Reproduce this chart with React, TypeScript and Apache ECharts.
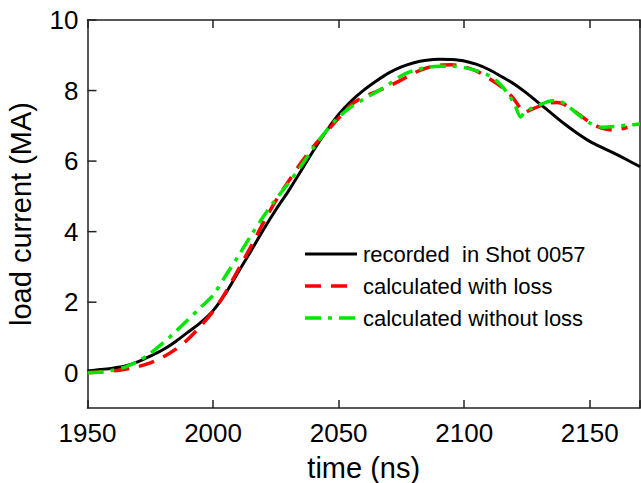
import React, { useEffect, useRef } from "react";
import * as echarts from "echarts";

const timeRecorded = [1950, 1955, 1960, 1965, 1970, 1975, 1980, 1985, 1990, 1995, 2000, 2005, 2010, 2015, 2020, 2025, 2030, 2035, 2040, 2045, 2050, 2055, 2060, 2065, 2070, 2075, 2080, 2085, 2090, 2095, 2100, 2105, 2110, 2115, 2120, 2125, 2130, 2135, 2140, 2145, 2150, 2155, 2160, 2165, 2170];
const currentRecorded = [0.05, 0.09, 0.13, 0.19, 0.31, 0.47, 0.65, 0.88, 1.15, 1.42, 1.76, 2.25, 2.85, 3.44, 4.05, 4.62, 5.15, 5.72, 6.3, 6.84, 7.32, 7.7, 8.01, 8.27, 8.5, 8.67, 8.79, 8.86, 8.89, 8.88, 8.84, 8.74, 8.59, 8.39, 8.18, 7.92, 7.63, 7.34, 7.05, 6.79, 6.56, 6.38, 6.21, 6.03, 5.84];

const timeWithLoss = [1950, 1955, 1960, 1965, 1970, 1975, 1980, 1985, 1990, 1995, 2000, 2005, 2010, 2015, 2020, 2025, 2030, 2035, 2040, 2045, 2050, 2055, 2060, 2065, 2070, 2075, 2080, 2085, 2090, 2095, 2100, 2105, 2110, 2115, 2118, 2120, 2122, 2124, 2126, 2130, 2134, 2137, 2140, 2145, 2150, 2155, 2160, 2165];
const currentWithLoss = [0.0, 0.02, 0.05, 0.1, 0.17, 0.28, 0.44, 0.66, 0.95, 1.32, 1.74, 2.28, 2.92, 3.57, 4.25, 4.88, 5.42, 5.95, 6.42, 6.82, 7.22, 7.6, 7.82, 7.97, 8.13, 8.3, 8.5, 8.64, 8.72, 8.73, 8.67, 8.55, 8.34, 8.1, 7.9, 7.74, 7.53, 7.37, 7.44, 7.56, 7.65, 7.66, 7.6, 7.36, 7.1, 6.93, 6.88, 6.96];

const timeWithoutLoss = [1950, 1955, 1960, 1965, 1970, 1975, 1980, 1985, 1990, 1995, 2000, 2005, 2010, 2015, 2020, 2025, 2030, 2035, 2040, 2045, 2050, 2055, 2060, 2065, 2070, 2075, 2080, 2085, 2090, 2095, 2100, 2105, 2110, 2114, 2117, 2120, 2122.5, 2124, 2127, 2131, 2135, 2138, 2141, 2145, 2150, 2155, 2160, 2165, 2170];
const currentWithoutLoss = [0.0, 0.02, 0.07, 0.16, 0.32, 0.55, 0.84, 1.16, 1.5, 1.85, 2.2, 2.75, 3.3, 3.88, 4.42, 4.92, 5.37, 5.86, 6.38, 6.85, 7.25, 7.54, 7.76, 7.96, 8.18, 8.42, 8.57, 8.65, 8.69, 8.69, 8.65, 8.56, 8.42, 8.2, 7.95, 7.62, 7.25, 7.38, 7.5, 7.62, 7.71, 7.69, 7.58, 7.34, 7.08, 6.96, 6.98, 7.02, 7.05];

const xTicks = [1950, 2000, 2050, 2100, 2150];
const yTicks = [0, 2, 4, 6, 8, 10];
const seriesNames = ["recorded  in Shot 0057", "calculated with loss", "calculated without loss"];
const seriesColors = ["#000000", "#ff0000", "#00e600"];
const seriesDash: (number[] | null)[] = [null, [16, 10], [16, 7, 4, 7]];

const pairs = (xs: number[], ys: number[]) => xs.map((x, i) => [x, ys[i]]);

export default function App() {
  const ref = useRef<HTMLDivElement>(null);
  useEffect(() => {
    const chart = echarts.init(ref.current!, null, { renderer: "svg" });
    const font = "'Liberation Sans', Arial, sans-serif";
    const axisColor = "#222";
    const lineStyle = { color: axisColor, width: 1.5 };
    const widths = [3, 3.5, 3.5];

    const legendX = 305;
    const legendY = 254;
    const legendRow = 32;
    const legendGraphics: any[] = [];
    seriesNames.forEach((name, i) => {
      const y = legendY + i * legendRow;
      legendGraphics.push({
        type: "line",
        shape: { x1: legendX, y1: y, x2: legendX + 52, y2: y },
        style: {
          stroke: seriesColors[i],
          lineWidth: widths[i],
          lineDash: seriesDash[i] || undefined,
        },
        z: 10,
      });
      legendGraphics.push({
        type: "text",
        x: legendX + 58,
        y,
        style: {
          text: name,
          fill: "#000",
          font: `22px ${font}`,
          verticalAlign: "middle",
        },
        z: 10,
      });
    });

    const fmt = (v: number) => String(v);

    // inward y ticks at the even values, placed through the axis scales
    const tickSeries = {
      type: "custom",
      xAxisIndex: 0,
      yAxisIndex: 0,
      silent: true,
      z: 1,
      data: yTicks.map((v) => [xTicks[0], v]),
      renderItem: (params: any, api: any) => {
        const p = api.coord([api.value(0), api.value(1)]);
        return {
          type: "line",
          shape: { x1: p[0], y1: p[1], x2: p[0] + 9, y2: p[1] },
          style: { stroke: axisColor, lineWidth: 1.5 },
        };
      },
    };

    chart.setOption({
      animation: false,
      backgroundColor: "#fff",
      grid: { left: 87.5, right: 1, top: 20, bottom: 75, containLabel: false, outerBoundsMode: "none" },
      graphic: legendGraphics,
      xAxis: [
        {
          type: "value",
          min: 1950,
          max: 2170,
          interval: 50,
          position: "bottom",
          name: "time (ns)",
          nameLocation: "middle",
          nameGap: 45,
          nameTextStyle: { fontSize: 29, color: "#000", fontFamily: font },
          axisLine: { show: true, onZero: false, lineStyle },
          axisTick: { show: true, inside: true, length: 8, lineStyle },
          axisLabel: { customValues: xTicks, formatter: fmt, fontSize: 26, color: "#000", margin: 12, fontFamily: font },
          splitLine: { show: false },
        },
        {
          type: "value",
          min: 1950,
          max: 2170,
          interval: 50,
          position: "top",
          axisLine: { show: true, onZero: false, lineStyle },
          axisTick: { show: true, inside: true, length: 8, lineStyle },
          axisLabel: { show: false },
          splitLine: { show: false },
        },
      ],
      yAxis: [
        {
          type: "value",
          min: -1,
          max: 10,
          position: "left",
          name: "load current (MA)",
          nameLocation: "middle",
          nameGap: 52,
          nameRotate: 90,
          nameTextStyle: { fontSize: 29, color: "#000", fontFamily: font },
          axisLine: { show: true, onZero: false, lineStyle },
          axisTick: { show: false },
          axisLabel: { customValues: yTicks, formatter: fmt, fontSize: 26, color: "#000", margin: 9, fontFamily: font },
          splitLine: { show: false },
        },
        {
          type: "value",
          min: -1,
          max: 10,
          position: "right",
          axisLine: { show: true, onZero: false, lineStyle },
          axisTick: { show: false },
          axisLabel: { show: false },
          splitLine: { show: false },
        },
      ],
      series: [
        tickSeries,
        {
          name: seriesNames[0],
          type: "line",
          xAxisIndex: 0,
          yAxisIndex: 0,
          symbol: "none",
          smooth: 0.3,
          data: pairs(timeRecorded, currentRecorded),
          lineStyle: { color: seriesColors[0], width: widths[0] },
          z: 2,
        },
        {
          name: seriesNames[1],
          type: "line",
          xAxisIndex: 0,
          yAxisIndex: 0,
          symbol: "none",
          smooth: 0.3,
          data: pairs(timeWithLoss, currentWithLoss),
          lineStyle: { color: seriesColors[1], width: widths[1], type: seriesDash[1] },
          z: 3,
        },
        {
          name: seriesNames[2],
          type: "line",
          xAxisIndex: 0,
          yAxisIndex: 0,
          symbol: "none",
          smooth: 0.3,
          data: pairs(timeWithoutLoss, currentWithoutLoss),
          lineStyle: { color: seriesColors[2], width: widths[2], type: seriesDash[2] },
          z: 4,
        },
      ],
    });
    return () => chart.dispose();
  }, []);
  return (
    <div
      ref={ref}
      style={{ position: "fixed", left: 0, top: 0, width: 641, height: 483, background: "#fff" }}
    />
  );
}
